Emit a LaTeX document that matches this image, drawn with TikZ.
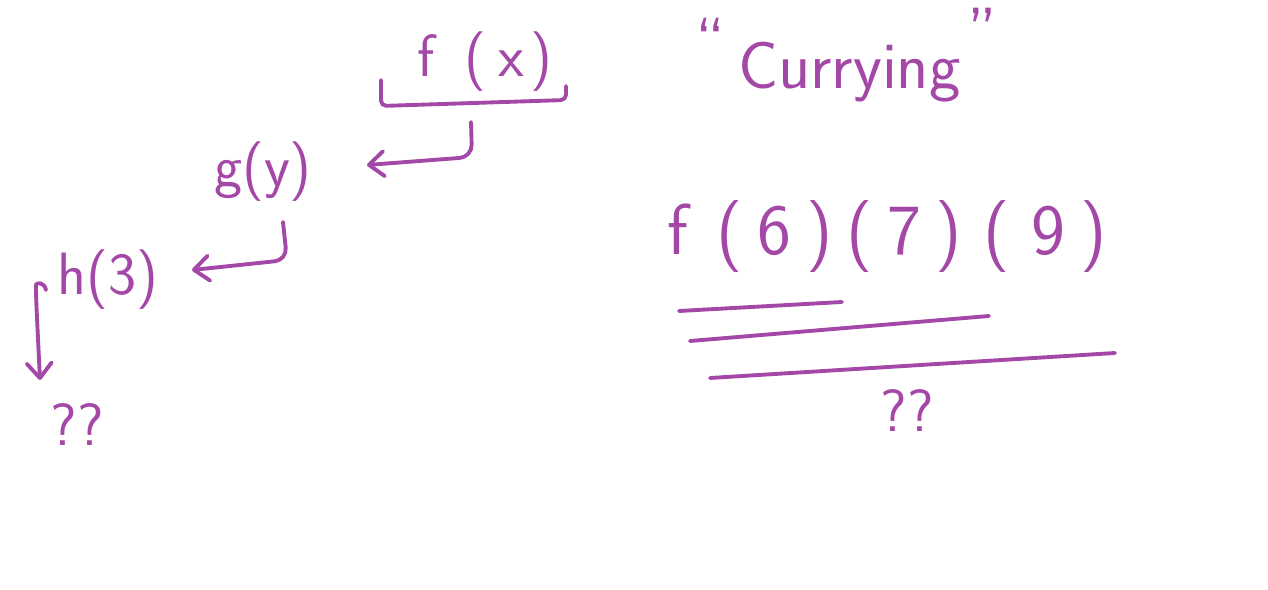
\documentclass[tikz,border=0pt]{standalone}
\usepackage{fontspec}
\usetikzlibrary{arrows.meta}
\definecolor{inkPurple}{RGB}{164,72,168}

\begin{document}
\begin{tikzpicture}[
  x=0.02cm, y=-0.02cm,
  every node/.style={text=inkPurple,font=\sffamily\fontsize{34}{40}\selectfont,inner sep=2pt},
  stroke/.style={draw=inkPurple,line width=2.2pt,line cap=round,line join=round},
  flow/.style={stroke,rounded corners=7pt,-{Straight Barb[length=3mm,width=5mm,round]}},
  bigText/.style={font=\sffamily\fontsize{41}{50}\selectfont},
  titleText/.style={font=\sffamily\fontsize{38}{46}\selectfont}
]
  \useasboundingbox (0,0) rectangle (1268,590);

  % Nested calls, left side.
  \node (fx) at (485,62) {f\hspace{0.5em}(\hspace{0.2em}x\hspace{0.1em})};
  \node (gy) at (263,172) {g(y)};
  \node (h3) at (108,280) {h(3)};
  \node (qLeft) at (77,425) {??};

  % Bracket under f(x).
  \draw[stroke,rounded corners=3pt] (381,80) -- (381,106) -- (566,100) -- (566,86);

  \coordinate (fxTail) at (471,122);
  \coordinate (gyHead) at (367,165);
  \coordinate (gyTail) at (283,222);
  \coordinate (h3Head) at (192,270);
  \coordinate (h3Tail) at (46,290);
  \coordinate (qHead) at (40,380);

  \draw[flow] (fxTail) -- (472,157) -- (gyHead);
  \draw[flow] (gyTail) -- (287,260) -- (h3Head);
  \draw[flow] (h3Tail) .. controls (44,281) and (36,283) .. (36,297) -- (qHead);

  % Currying, right side.
  \node[titleText] (curry) at (846,55) {\raisebox{0.35em}{“}\hspace{0.2em}Currying\hspace{0.1em}\raisebox{0.5em}{”}};
  \node[bigText] (chain) at (887,237) {f\hspace{0.4em}(\hspace{0.2em}6\hspace{0.2em})\hspace{0.2em}(\hspace{0.2em}7\hspace{0.2em})\hspace{0.3em}(\hspace{0.3em}9\hspace{0.2em})};
  \node (qRight) at (907,411) {??};

  \draw[stroke] (679,311) -- (842,302);
  \draw[stroke] (690,341) -- (989,316);
  \draw[stroke] (710,378) -- (1115,353);
\end{tikzpicture}
\end{document}
